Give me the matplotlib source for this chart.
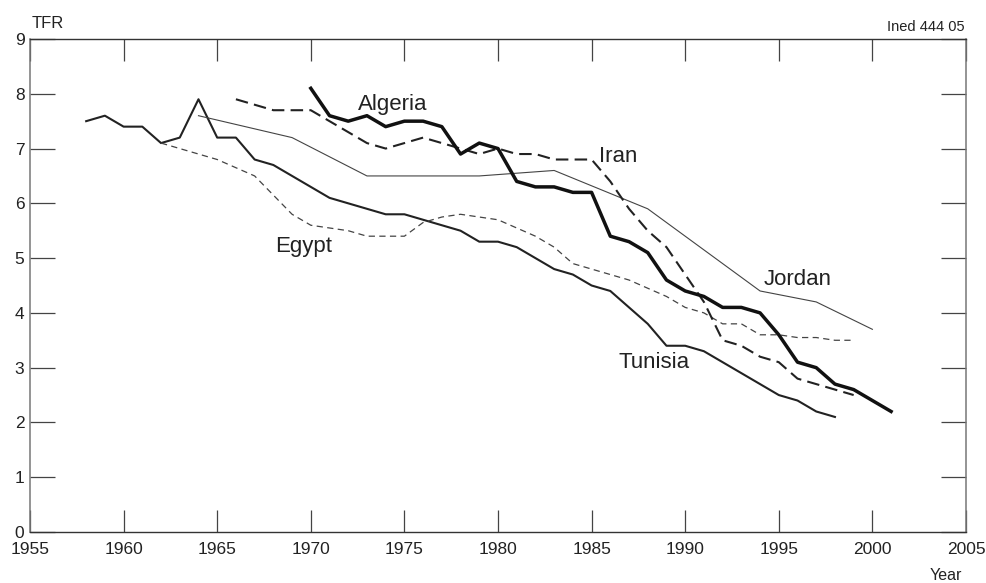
import matplotlib
matplotlib.use("Agg")
import matplotlib.pyplot as plt

# Data (TFR by year)
tunisia_years = list(range(1958, 1999))
tunisia_tfr = [7.5, 7.6, 7.4, 7.4, 7.1, 7.2, 7.9, 7.2, 7.2, 6.8, 6.7, 6.5, 6.3, 6.1,
               6.0, 5.9, 5.8, 5.8, 5.7, 5.6, 5.5, 5.3, 5.3, 5.2, 5.0, 4.8, 4.7, 4.5,
               4.4, 4.1, 3.8, 3.4, 3.4, 3.3, 3.1, 2.9, 2.7, 2.5, 2.4, 2.2, 2.1]

egypt_years = list(range(1962, 2000))
egypt_tfr = [7.1, 7.0, 6.9, 6.8, 6.65, 6.5, 6.15, 5.8, 5.6, 5.55, 5.5, 5.4, 5.4, 5.4,
             5.65, 5.75, 5.8, 5.75, 5.7, 5.55, 5.4, 5.2, 4.9, 4.8, 4.7, 4.6, 4.45,
             4.3, 4.1, 4.0, 3.8, 3.8, 3.6, 3.6, 3.55, 3.55, 3.5, 3.5]

jordan_years = [1964, 1969, 1973, 1979, 1983, 1988, 1994, 1997, 2000]
jordan_tfr = [7.6, 7.2, 6.5, 6.5, 6.6, 5.9, 4.4, 4.2, 3.7]

iran_years = list(range(1966, 2000))
iran_tfr = [7.9, 7.8, 7.7, 7.7, 7.7, 7.5, 7.3, 7.1, 7.0, 7.1, 7.2, 7.1, 7.0, 6.9,
            7.0, 6.9, 6.9, 6.8, 6.8, 6.8, 6.4, 5.9, 5.5, 5.2, 4.7, 4.2, 3.5, 3.4,
            3.2, 3.1, 2.8, 2.7, 2.6, 2.5]

algeria_years = list(range(1970, 2002))
algeria_tfr = [8.1, 7.6, 7.5, 7.6, 7.4, 7.5, 7.5, 7.4, 6.9, 7.1, 7.0, 6.4, 6.3, 6.3,
               6.2, 6.2, 5.4, 5.3, 5.1, 4.6, 4.4, 4.3, 4.1, 4.1, 4.0, 3.6, 3.1, 3.0,
               2.7, 2.6, 2.4, 2.2]

x_ticks = [1955, 1960, 1965, 1970, 1975, 1980, 1985, 1990, 1995, 2000, 2005]
y_ticks = [0, 1, 2, 3, 4, 5, 6, 7, 8, 9]

plt.rcParams['font.family'] = ['Liberation Sans', 'DejaVu Sans']

fig = plt.figure(figsize=(9.87, 5.83), dpi=100)
ax = fig.add_axes([0.0304, 0.0875, 0.9483, 0.8456])

ax.plot(tunisia_years, tunisia_tfr, color='#222222', lw=1.5)
ax.plot(egypt_years, egypt_tfr, color='#444444', lw=0.9, ls=(0, (5, 3.5)))
ax.plot(jordan_years, jordan_tfr, color='#444444', lw=0.8)
ax.plot(iran_years, iran_tfr, color='#222222', lw=1.5, ls=(0, (6, 3)))
ax.plot(algeria_years, algeria_tfr, color='#111111', lw=2.5)

ax.set_xlim(1955, 2005)
ax.set_ylim(0, 9)
ax.set_xticks(x_ticks)
ax.set_yticks(y_ticks)
ax.tick_params(axis='x', direction='in', length=16, width=0.9, color='#444444',
               top=True, labelsize=12.5, pad=7, labelcolor='#222222')
ax.tick_params(axis='y', direction='in', length=18, width=0.9, color='#444444',
               right=True, labelsize=12.5, pad=4, labelcolor='#222222')
for side in ['left', 'right']:
    ax.spines[side].set_color('#777777')
    ax.spines[side].set_linewidth(1.1)
for side in ['top', 'bottom']:
    ax.spines[side].set_color('#333333')
    ax.spines[side].set_linewidth(1.0)

lab = dict(fontsize=16, ha='center', va='baseline', color='#222222')
ax.text(1974.4, 7.70, 'Algeria', **lab)
ax.text(1986.4, 6.75, 'Iran', **lab)
ax.text(1969.6, 5.11, 'Egypt', **lab)
ax.text(1996.0, 4.51, 'Jordan', **lab)
ax.text(1988.35, 2.99, 'Tunisia', **lab)

fig.text(32 / 987, 1 - 23 / 583, 'TFR', fontsize=12, ha='left', va='center', color='#222222')
fig.text(965 / 987, 1 - 27 / 583, 'Ined 444 05', fontsize=10.5, ha='right', va='center', color='#222222')
fig.text(962 / 987, 1 - 575 / 583, 'Year', fontsize=11.5, ha='right', va='center', color='#222222')

fig.savefig('out.png', dpi=100)
